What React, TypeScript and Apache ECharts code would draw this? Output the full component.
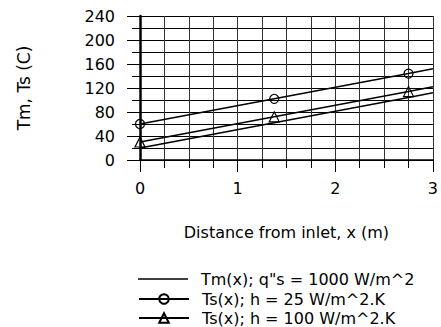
import React, { useEffect, useRef } from "react";
import * as echarts from "echarts";

const xPositions = [0, 1.375, 2.75, 3];
const tmValues = [20, 62, 104, 112];
const ts25Values = [60, 102, 144, 152];
const ts100Values = [30, 72, 114, 122];
const markedPoints = [true, true, true, false];
const seriesNames = [
  'Tm(x); q"s = 1000 W/m^2',
  "Ts(x); h = 25 W/m^2.K",
  "Ts(x); h = 100 W/m^2.K",
];
const xAxisTitle = "Distance from inlet, x (m)";
const yAxisTitle = "Tm, Ts (C)";

const FONT = "DejaVu Sans";

function buildData(values: number[]) {
  return xPositions.map((x, i) =>
    markedPoints[i] ? [x, values[i]] : { value: [x, values[i]], symbol: "none" }
  );
}

function legendRow(name: string, top: number, extra: any = {}) {
  return {
    orient: "horizontal",
    left: 138,
    top,
    padding: 0,
    itemWidth: 50,
    itemHeight: 12,
    selectedMode: false,
    textStyle: {
      fontFamily: FONT,
      fontSize: 16,
      color: "#000",
      lineHeight: 16,
      padding: [0, 0, 0, 8],
    },
    data: [name],
    ...extra,
  };
}

export default function App() {
  const ref = useRef<HTMLDivElement>(null);
  useEffect(() => {
    if (!ref.current) return;
    const chart = echarts.init(ref.current, undefined, { renderer: "svg" });
    const lineStyle = { color: "#000", width: 1.5 };
    const markerStyle = { color: "transparent", borderColor: "#000", borderWidth: 1.2 };
    chart.setOption({
      animation: false,
      backgroundColor: "#fff",
      textStyle: { fontFamily: FONT, color: "#000" },
      grid: { left: 140, right: 6, top: 16, bottom: 167, containLabel: false },
      legend: [
        legendRow(seriesNames[0], 271, {
          itemHeight: 1.5,
          data: [{ name: seriesNames[0], icon: "rect", itemStyle: { color: "#000", borderWidth: 0 } }],
        }),
        legendRow(seriesNames[1], 291),
        legendRow(seriesNames[2], 310),
      ],
      xAxis: {
        type: "value",
        min: 0,
        max: 3,
        interval: 1,
        name: xAxisTitle,
        nameLocation: "middle",
        nameGap: 64,
        nameTextStyle: { fontFamily: FONT, fontSize: 16, color: "#000" },
        axisLine: { show: true, onZero: false, lineStyle: { color: "#000", width: 1.5 } },
        axisTick: { show: true, length: 12, lineStyle: { color: "#000" } },
        minorTick: { show: true, splitNumber: 4, length: 8, lineStyle: { color: "#000" } },
        axisLabel: { fontFamily: FONT, fontSize: 16, color: "#000", margin: 20 },
        splitLine: { show: true, lineStyle: { color: "#333", width: 1 } },
        minorSplitLine: { show: true, lineStyle: { color: "#333", width: 1 } },
      },
      yAxis: {
        type: "value",
        min: 0,
        max: 240,
        interval: 40,
        name: yAxisTitle,
        nameLocation: "middle",
        nameGap: 108,
        nameTextStyle: { fontFamily: FONT, fontSize: 17, color: "#000" },
        axisLine: { show: true, lineStyle: { color: "#000", width: 2.5 } },
        axisTick: { show: true, length: 13, lineStyle: { color: "#000" } },
        minorTick: { show: true, splitNumber: 2, length: 8, lineStyle: { color: "#000" } },
        axisLabel: { fontFamily: FONT, fontSize: 16, color: "#000", margin: 25 },
        splitLine: { show: true, lineStyle: { color: "#000", width: 1 } },
        minorSplitLine: { show: true, lineStyle: { color: "#000", width: 1 } },
      },
      series: [
        {
          name: seriesNames[0],
          type: "line",
          data: buildData(tmValues),
          symbol: "none",
          lineStyle,
          itemStyle: { color: "#000" },
        },
        {
          name: seriesNames[1],
          type: "line",
          data: buildData(ts25Values),
          symbol: "circle",
          symbolSize: 9,
          showAllSymbol: true,
          lineStyle,
          itemStyle: markerStyle,
        },
        {
          name: seriesNames[2],
          type: "line",
          data: buildData(ts100Values),
          symbol: "triangle",
          symbolSize: 10,
          showAllSymbol: true,
          lineStyle,
          itemStyle: markerStyle,
        },
      ],
    });
    return () => chart.dispose();
  }, []);
  return (
    <div
      ref={ref}
      style={{ position: "absolute", left: 0, top: 0, width: 441, height: 327 }}
    />
  );
}
